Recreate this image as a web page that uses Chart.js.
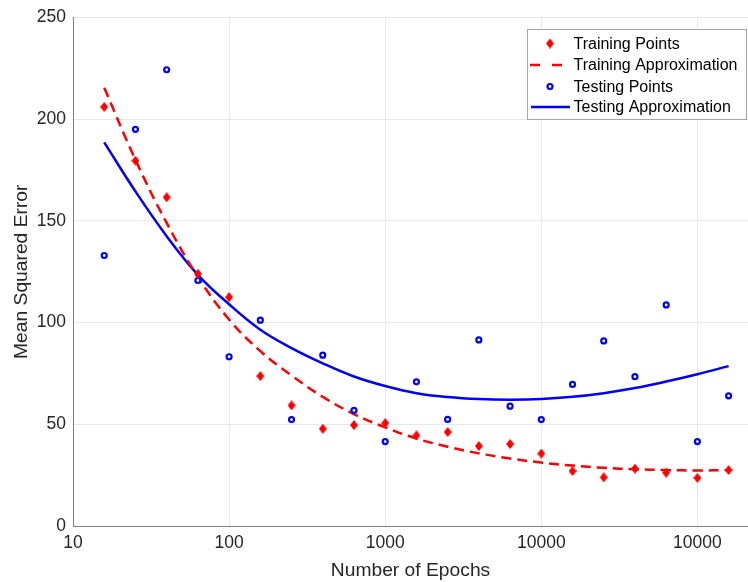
<!DOCTYPE html>
<html><head><meta charset="utf-8">
<script src="https://cdn.jsdelivr.net/npm/chart.js@4/dist/chart.umd.min.js"></script>
<style>html,body{margin:0;padding:0;background:#fff;overflow:hidden}</style>
</head><body>
<canvas id="c" width="748" height="582"></canvas>
<script>
const epochs = [15.85, 25.12, 39.81, 63.1, 100, 158.5, 251.2, 398.1, 631, 1000, 1585, 2512, 3981, 6310, 10000, 15850, 25120, 39810, 63100, 100000, 158500];
const trainingPoints = [206, 179.6, 161.6, 124, 112.5, 73.7, 59.3, 47.8, 49.6, 50.6, 44.5, 46.2, 39.3, 40.3, 35.6, 27, 23.9, 28.2, 26.2, 23.6, 27.5];
const testingPoints = [133, 195, 224.3, 120.7, 83.2, 101.2, 52.3, 84, 56.8, 41.5, 70.9, 52.4, 91.5, 58.9, 52.3, 69.6, 91, 73.4, 108.7, 41.5, 64];
const trainingApprox = [215.5, 180, 149, 122.5, 101.5, 86, 74, 63.5, 55, 48.5, 43, 39, 35.7, 33.2, 31.2, 29.7, 28.6, 27.9, 27.5, 27.3, 27.5];
const testingApprox = [188.6, 164.5, 142.5, 123.5, 109, 96.5, 87.5, 80, 73.5, 68.8, 65.3, 63.4, 62.4, 62.1, 62.4, 63.5, 65.3, 67.8, 71, 74.6, 78.6];
const xTickValues = [10, 100, 1000, 10000, 100000];
const xTickLabels = ['10', '100', '1000', '10000', '10000'];
const yTickValues = [0, 50, 100, 150, 200, 250];
const seriesLabels = ['Training Points', 'Training Approximation', 'Testing Points', 'Testing Approximation'];

const RED = '#ff0000', BLUE = '#0000ff', TXT = '#262626';
Chart.defaults.font.family = "'Liberation Sans', Arial, Helvetica, sans-serif";

function makeDiamond(w, h, color) {
  const cv = document.createElement('canvas');
  cv.width = w; cv.height = h;
  const g = cv.getContext('2d');
  g.fillStyle = color;
  g.beginPath();
  g.moveTo(w / 2, 0); g.lineTo(w, h / 2); g.lineTo(w / 2, h); g.lineTo(0, h / 2);
  g.closePath(); g.fill();
  return cv;
}
const diamond = makeDiamond(8, 10, RED);

const pts = (ys) => epochs.map((x, i) => ({ x: x, y: ys[i] }));

const legendPlugin = {
  id: 'boxLegend',
  afterDraw(chart) {
    const c = chart.ctx;
    c.save();
    const L = 527.5, T = 29.5, R = 746.5, B = 119.5;
    c.fillStyle = '#ffffff';
    c.fillRect(L, T, R - L, B - T);
    c.strokeStyle = '#a6a6a6';
    c.lineWidth = 1;
    c.strokeRect(L, T, R - L, B - T);
    const rows = [43.5, 65, 86.5, 107];
    const tx = 573.5;
    c.font = "16px 'Liberation Sans', Arial, sans-serif";
    c.fillStyle = '#000000';
    c.textBaseline = 'middle';
    c.textAlign = 'left';
    rows.forEach((y, i) => c.fillText(chart.data.datasets[i].label, tx, y + 1));
    c.drawImage(diamond, 550 - 4, rows[0] - 5);
    c.strokeStyle = RED; c.lineWidth = 2.5; c.setLineDash([10, 12]);
    c.beginPath(); c.moveTo(530, rows[1]); c.lineTo(562, rows[1]); c.stroke();
    c.setLineDash([]);
    c.beginPath(); c.arc(550, rows[2], 2.5, 0, Math.PI * 2);
    c.fillStyle = '#ffffff'; c.fill();
    c.strokeStyle = BLUE; c.lineWidth = 2.2; c.stroke();
    c.strokeStyle = BLUE; c.lineWidth = 2.5;
    c.beginPath(); c.moveTo(531, rows[3]); c.lineTo(570, rows[3]); c.stroke();
    c.restore();
  }
};

new Chart(document.getElementById('c'), {
  type: 'scatter',
  data: {
    datasets: [
      { label: seriesLabels[0], data: pts(trainingPoints), pointStyle: diamond, pointRadius: 5,
        backgroundColor: RED, borderColor: RED, showLine: false, order: 0 },
      { label: seriesLabels[1], type: 'line', data: pts(trainingApprox), borderColor: RED,
        borderWidth: 2.5, borderDash: [10, 6], pointRadius: 0, tension: 0.4, fill: false, order: 1 },
      { label: seriesLabels[2], data: pts(testingPoints), pointStyle: 'circle', pointRadius: 2.5,
        pointBorderWidth: 2.2, backgroundColor: '#ffffff', borderColor: BLUE, showLine: false, order: 0 },
      { label: seriesLabels[3], type: 'line', data: pts(testingApprox), borderColor: BLUE,
        borderWidth: 2.5, pointRadius: 0, tension: 0.4, fill: false, order: 1 }
    ]
  },
  options: {
    responsive: false,
    animation: false,
    devicePixelRatio: 1,
    layout: { autoPadding: false, padding: { top: 17, left: 0, right: 0, bottom: 0 } },
    plugins: { legend: { display: false }, tooltip: { enabled: false } },
    scales: {
      x: {
        type: 'logarithmic', position: 'bottom', min: 10, max: 211000,
        afterBuildTicks: (s) => { s.ticks = xTickValues.map(v => ({ value: v })); },
        afterFit: (s) => { s.height = 56; s.paddingRight = 0; s.paddingLeft = 0; },
        ticks: {
          callback: (v) => { const i = xTickValues.indexOf(v); return i >= 0 ? xTickLabels[i] : ''; },
          color: TXT, font: { size: 17.5 }, padding: 7, maxRotation: 0, autoSkip: false
        },
        grid: { color: '#e8e8e8', drawTicks: false },
        border: { color: '#808080', width: 1 },
        title: { display: true, text: 'Number of Epochs', color: TXT, font: { size: 19.25 }, padding: { top: 0, bottom: 0 } }
      },
      y: {
        min: 0, max: 250,
        afterBuildTicks: (s) => { s.ticks = yTickValues.map(v => ({ value: v })); },
        afterFit: (s) => { s.width = 73; },
        ticks: { color: TXT, font: { size: 17.5 }, padding: 7 },
        grid: { color: '#e8e8e8', drawTicks: false },
        border: { color: '#808080', width: 1 },
        title: { display: true, text: 'Mean Squared Error', color: TXT, font: { size: 19.25 }, padding: { top: 10, bottom: 0 } }
      }
    }
  },
  plugins: [legendPlugin]
});
</script>
</body></html>
